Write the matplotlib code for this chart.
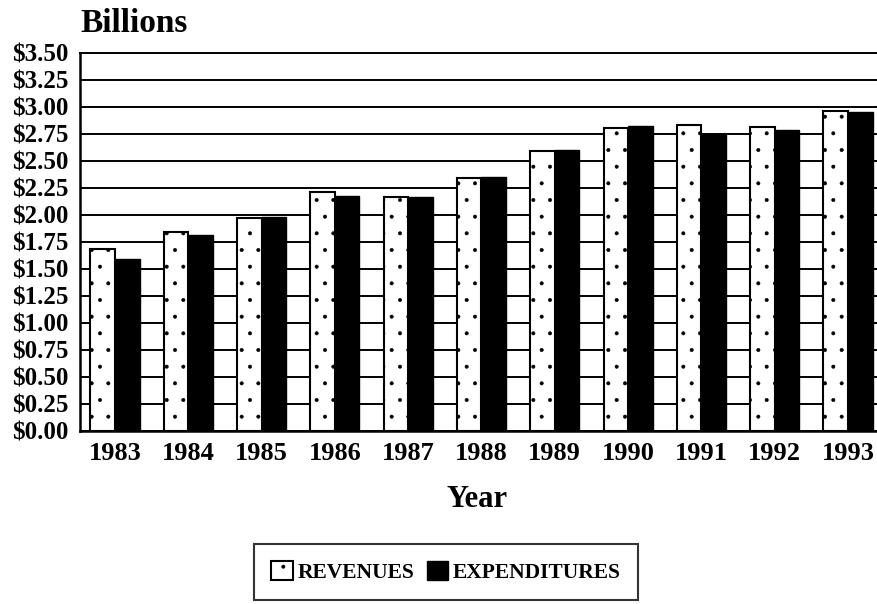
import matplotlib
matplotlib.use("Agg")
import matplotlib.pyplot as plt
import numpy as np

years = ["1983", "1984", "1985", "1986", "1987", "1988", "1989", "1990", "1991", "1992", "1993"]
revenues = [1.68, 1.84, 1.97, 2.21, 2.16, 2.34, 2.59, 2.80, 2.83, 2.81, 2.96]
expenditures = [1.59, 1.81, 1.98, 2.17, 2.16, 2.35, 2.60, 2.82, 2.75, 2.78, 2.95]
yticks = [0.0, 0.25, 0.5, 0.75, 1.0, 1.25, 1.5, 1.75, 2.0, 2.25, 2.5, 2.75, 3.0, 3.25, 3.5]

plt.rcParams['font.family'] = ['Liberation Serif', 'DejaVu Serif']
plt.rcParams['font.weight'] = 'bold'
plt.rcParams['hatch.linewidth'] = 0.4

fig = plt.figure(figsize=(8.77, 6.04), dpi=100)
ax = fig.add_axes([80/877, 1-430.7/604, 1-80/877, (430.7-52.7)/604])

x = np.arange(len(years))
w = 0.335
ax.bar(x - w/2, revenues, width=w, facecolor='white', edgecolor='black',
       linewidth=1.5, hatch='.', label='REVENUES', zorder=3)
ax.bar(x + w/2, expenditures, width=w, facecolor='black', edgecolor='black',
       linewidth=1.0, label='EXPENDITURES', zorder=3)

ax.set_ylim(0, 3.5)
ax.set_xlim(-0.477, 10.396)
ax.set_yticks(yticks)
ax.set_yticklabels([f"${v:.2f}" for v in yticks], fontsize=18, fontweight='bold')
ax.set_xticks(x)
ax.set_xticklabels(years, fontsize=19, fontweight='bold')
ax.tick_params(axis='both', length=0)
ax.tick_params(axis='y', pad=8)
ax.tick_params(axis='x', pad=8)

ax.yaxis.grid(True, color='black', linewidth=1.4, zorder=0)
ax.set_axisbelow(True)
for s in ['left', 'bottom', 'top']:
    ax.spines[s].set_linewidth(1.8)
ax.spines['right'].set_visible(False)
ax.spines['top'].set_linewidth(1.4)

fig.text(80/877, 1-32/604, "Billions", fontsize=24, fontweight='bold',
         ha='left', va='baseline')
fig.text(477/877, 1-507/604, "Year", fontsize=22, fontweight='bold',
         ha='center', va='baseline')

leg = fig.legend(loc='center', bbox_to_anchor=(446/877, 1-572/604), ncol=2,
                 fontsize=15.5, frameon=True, fancybox=False, edgecolor='black',
                 handlelength=1.0, handleheight=1.0, handletextpad=0.2,
                 columnspacing=0.6, borderpad=0.8, prop={'weight': 'bold', 'size': 15.5})
leg.get_frame().set_linewidth(1.5)

fig.savefig("out.png", dpi=100)
